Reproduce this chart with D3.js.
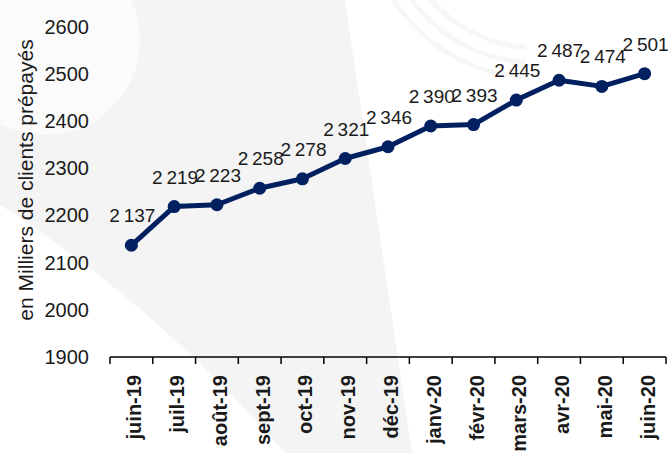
<!DOCTYPE html>
<html>
<head>
  <meta charset="utf-8">
  <title>Clients prépayés</title>
  <script src="https://d3js.org/d3.v7.min.js"></script>
  <style>
    body { margin: 0; background: #fff; }
    svg { display: block; font-family: "Liberation Sans", Arial, sans-serif; }
    .tick-label { font-size: 20px; fill: #1a1a1a; }
    .x-label { font-size: 20px; font-weight: bold; fill: #1a1a1a; }
    .val-label { font-size: 19px; fill: #1a1a1a; text-anchor: middle; }
    .y-title { font-size: 21px; fill: #1a1a1a; text-anchor: middle; }
  </style>
</head>
<body>
  <div id="chart"></div>
  <script>
    // data
    const months = ["juin-19", "juil-19", "août-19", "sept-19", "oct-19", "nov-19", "déc-19",
                    "janv-20", "févr-20", "mars-20", "avr-20", "mai-20", "juin-20"];
    const clients = [2137, 2219, 2223, 2258, 2278, 2321, 2346, 2390, 2393, 2445, 2487, 2474, 2501];
    const yTicks = [1900, 2000, 2100, 2200, 2300, 2400, 2500, 2600];
    const yTitle = "en Milliers de clients prépayés";

    const W = 670, H = 453;
    const plotLeft = 110, plotRight = 666, plotBottom = 357, plotTop = 27;

    const svg = d3.select("#chart").append("svg")
      .attr("width", W)
      .attr("height", H);

    // faint watermark in the background
    const bg = svg.append("g");
    bg.append("rect").attr("width", W).attr("height", H).attr("fill", "#ffffff");
    bg.append("path")
      .attr("d", "M0,0 L345,0 L412,453 L285,453 Q150,300 0,205 Z")
      .attr("fill", "#f4f4f4");
    bg.append("circle").attr("cx", 45).attr("cy", 40).attr("r", 95).attr("fill", "#fbfbfb");
    [135, 150, 165].forEach(r => {
      bg.append("path")
        .attr("d", d3.arc()({innerRadius: r, outerRadius: r + 5, startAngle: Math.PI * 1.02, endAngle: Math.PI * 1.42}))
        .attr("transform", "translate(535,-90)")
        .attr("fill", "#f7f7f7");
    });

    const x = d3.scaleBand().domain(months).range([plotLeft, plotRight]);
    const y = d3.scaleLinear().domain([1900, 2600]).range([plotBottom, plotTop]);
    const cx = d => x(d) + x.bandwidth() / 2;

    // y axis: labels only
    const yAxis = svg.append("g")
      .attr("transform", `translate(${plotLeft},0)`)
      .call(d3.axisLeft(y).tickValues(yTicks).tickSize(0).tickPadding(21).tickFormat(d3.format("d")));
    yAxis.select(".domain").remove();
    yAxis.attr("font-family", null).attr("font-size", null);
    yAxis.selectAll("text").attr("class", "tick-label");

    svg.append("text")
      .attr("class", "y-title")
      .attr("transform", "translate(33,180) rotate(-90)")
      .text(yTitle);

    // x axis line with ticks at band edges
    const edges = months.map(m => x(m)).concat([plotRight]);
    const xg = svg.append("g").attr("stroke", "#000").attr("stroke-width", 1.5);
    xg.append("line").attr("x1", plotLeft).attr("x2", plotRight).attr("y1", plotBottom).attr("y2", plotBottom);
    xg.selectAll(".edge").data(edges).enter().append("line")
      .attr("x1", d => d).attr("x2", d => d)
      .attr("y1", plotBottom).attr("y2", plotBottom + 7);

    svg.selectAll(".x-label").data(months).enter().append("text")
      .attr("class", "x-label")
      .attr("transform", d => `translate(${cx(d)},${plotBottom + 18}) rotate(-90)`)
      .attr("dy", "0.5em")
      .attr("text-anchor", "end")
      .text(d => d);

    // series
    const pts = months.map((m, i) => ({m: m, v: clients[i]}));
    svg.append("path")
      .datum(pts)
      .attr("fill", "none")
      .attr("stroke", "#002060")
      .attr("stroke-width", 5)
      .attr("stroke-linejoin", "round")
      .attr("d", d3.line().x(d => cx(d.m)).y(d => y(d.v)));

    svg.selectAll(".dot").data(pts).enter().append("circle")
      .attr("cx", d => cx(d.m))
      .attr("cy", d => y(d.v))
      .attr("r", 6.5)
      .attr("fill", "#002060");

    const fmt = v => d3.format(",")(v).replace(",", "\u2009");
    svg.selectAll(".val-label").data(pts).enter().append("text")
      .attr("class", "val-label")
      .attr("x", d => cx(d.m) + 1)
      .attr("y", d => y(d.v) - 23)
      .text(d => fmt(d.v));
  </script>
</body>
</html>
